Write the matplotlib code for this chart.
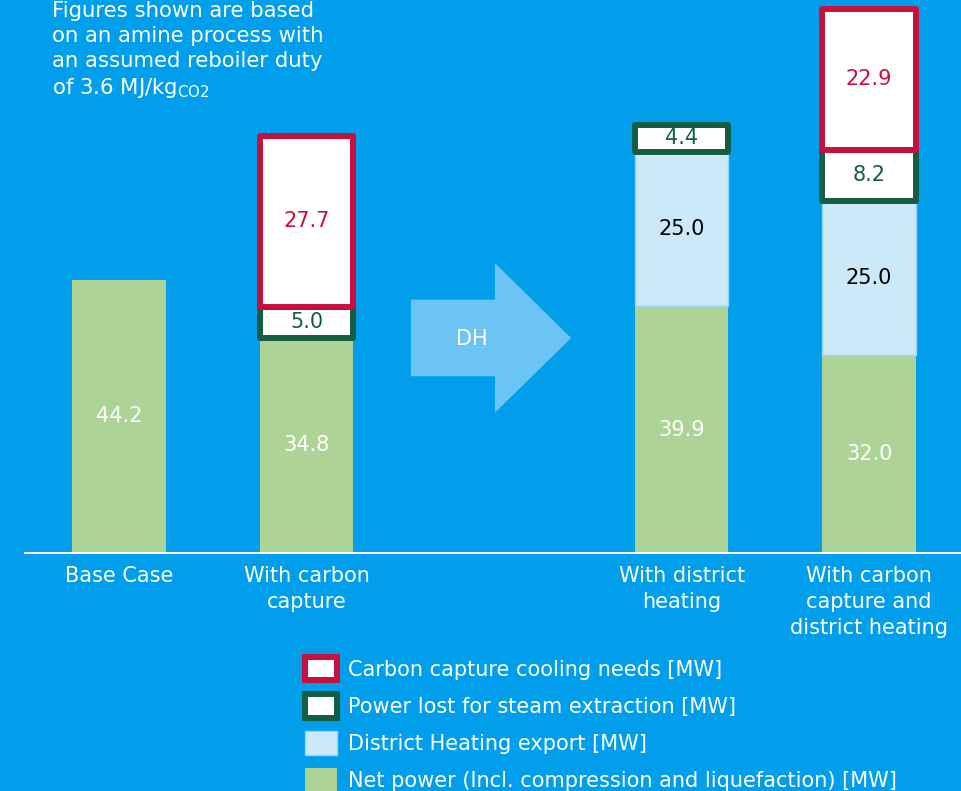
import numpy as np
import matplotlib.pyplot as plt
from matplotlib.patches import FancyArrow

# data
categories = ["Base Case", "With carbon\ncapture", "With district\nheating",
              "With carbon\ncapture and\ndistrict heating"]
net_power = np.array([44.2, 34.8, 39.9, 32.0])
dh_export = np.array([0.0, 0.0, 25.0, 25.0])
power_lost = np.array([0.0, 5.0, 4.4, 8.2])
cooling = np.array([0.0, 27.7, 0.0, 22.9])

bg = '#009EEB'
c_green = '#AED396'
c_lblue = '#CCE9FA'
c_dgreen = '#145C43'
c_red = '#C8103F'

x = np.array([0, 1, 3, 4])  # slot 2 is left for the DH arrow
w = 0.5
fs = 15

fig = plt.figure(figsize=(9.61, 7.91), dpi=100, facecolor=bg)
ax = fig.add_axes([25 / 961, 1 - 553 / 791, 1 - 25 / 961, 553 / 791])
ax.set_facecolor(bg)

b1 = ax.bar(x, net_power, w, color=c_green, label='Net power (Incl. compression and liquefaction) [MW]')
ax.bar_label(b1, fmt='%.1f', label_type='center', color='white', fontsize=fs)

m = dh_export > 0
b2 = ax.bar(x[m], dh_export[m], w, bottom=net_power[m], color=c_lblue,
            edgecolor='#9AD3F5', linewidth=1, label='District Heating export [MW]')
ax.bar_label(b2, fmt='%.1f', label_type='center', color='black', fontsize=fs)

m = power_lost > 0
bottom = net_power + dh_export
b3 = ax.bar(x[m], power_lost[m], w, bottom=bottom[m], color='white',
            edgecolor=c_dgreen, linewidth=4.3, label='Power lost for steam extraction [MW]')
ax.bar_label(b3, fmt='%.1f', label_type='center', color=c_dgreen, fontsize=fs)

m = cooling > 0
bottom = bottom + power_lost
b4 = ax.bar(x[m], cooling[m], w, bottom=bottom[m], color='white',
            edgecolor=c_red, linewidth=4.3, label='Carbon capture cooling needs [MW]')
ax.bar_label(b4, fmt='%.1f', label_type='center', color=c_red, fontsize=fs)

for b in list(b3) + list(b4):
    b.set_joinstyle('round')

# DH arrow between the two groups
ax.add_patch(FancyArrow(1.557, 34.8, 0.854, 0, width=12.4, head_width=24.2,
                        head_length=0.406, length_includes_head=True,
                        color='#6CC4F5', linewidth=0))
ax.text(1.883, 34.6, 'DH', color='white', fontsize=fs, ha='center', va='center')

ax.set_xlim(-0.501, 4.49)
ax.set_ylim(0, 553 / 6.18)
ax.set_xticks(x)
ax.set_xticklabels(categories, color='white', fontsize=fs, linespacing=1.4)
ax.tick_params(axis='x', length=0, pad=9)
ax.set_yticks([])
for s in ['top', 'left', 'right']:
    ax.spines[s].set_visible(False)
ax.spines['bottom'].set_color('white')
ax.spines['bottom'].set_linewidth(1.5)

fig.text(52 / 961, 1 - 1 / 791,
         'Figures shown are based\non an amine process with\nan assumed reboiler duty\n'
         'of 3.6 MJ/kg$_{\\mathregular{CO2}}$',
         color='white', fontsize=15.3, va='top', ha='left', linespacing=1.3)

fig.legend(handles=[b4, b3, b2, b1], loc='upper left',
           bbox_to_anchor=(305 / 961, 1 - 657 / 791), frameon=False,
           fontsize=fs, labelcolor='white', handlelength=1.55, handleheight=1.35,
           handletextpad=0.5, labelspacing=0.66, borderpad=0, borderaxespad=0)

fig.savefig('out.png', dpi=100, facecolor=bg)
